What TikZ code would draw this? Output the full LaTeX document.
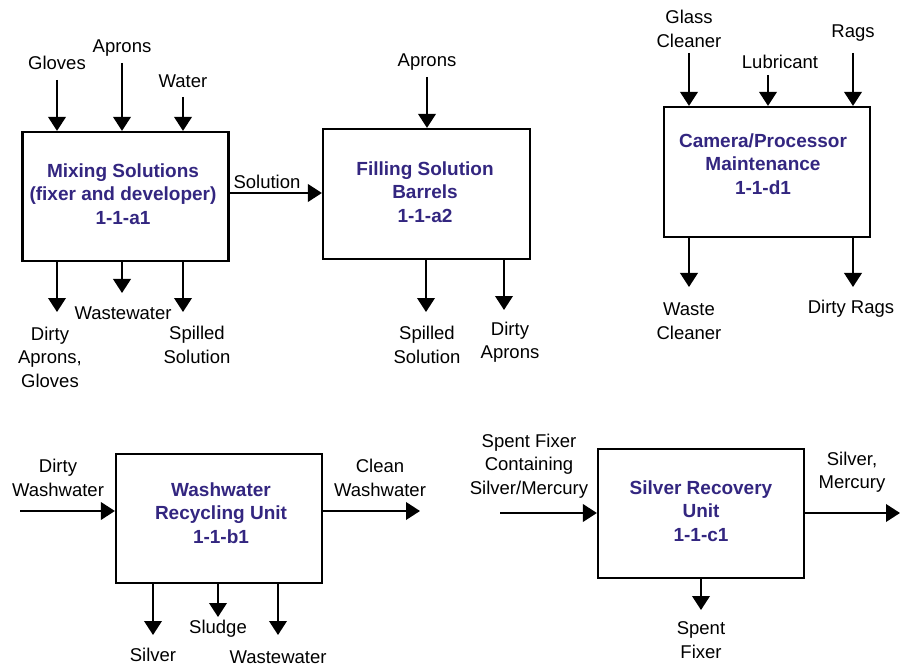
\documentclass[tikz,border=0pt]{standalone}
\usepackage{fontspec}
\setmainfont{Liberation Sans}
\usetikzlibrary{arrows.meta}
\definecolor{ttl}{RGB}{51,38,128}
\begin{document}
\begin{tikzpicture}[x=1pt,y=-1pt,
  box/.style={draw,line width=2.2pt,inner sep=0pt,minimum width=206pt,minimum height=129pt},
  ttlnode/.style={font=\bfseries\fontsize{19}{23.5}\selectfont,text=ttl,align=center,inner sep=0pt},
  lbl/.style={font=\fontsize{18.5}{23.5}\selectfont,align=center,inner sep=0pt},
  arr/.style={line width=2.2pt,-{Triangle[width=17.5pt,length=14pt]}}]
\useasboundingbox (0,0) rectangle (900,671);

% ---------- Box A1 ----------
\node[box] (a1) at (125.5,196.5) {};
\node[ttlnode] (a1t) at (123,194) {Mixing Solutions\\(fixer and developer)\\1-1-a1};
\node[lbl] (lgl) at (57,63) {Gloves};
\node[lbl] (lap) at (122,48) {Aprons};
\node[lbl] (lwa) at (183,81) {Water};
\coordinate (cgl) at (57,80);
\coordinate (cap1) at (122,63);
\coordinate (cwa) at (183,97);
\draw[arr] (cgl) -- (cgl |- a1.north);
\draw[arr] (cap1) -- (cap1 |- a1.north);
\draw[arr] (cwa) -- (cwa |- a1.north);
\coordinate (oda) at (57,312);
\coordinate (oww) at (122,293);
\coordinate (osp) at (183,312);
\draw[arr] (oda |- a1.south) -- (oda);
\draw[arr] (oww |- a1.south) -- (oww);
\draw[arr] (osp |- a1.south) -- (osp);
\node[lbl] (lww) at (123,313) {Wastewater};
\node[lbl] (lda) at (50,357) {Dirty\\Aprons,\\Gloves};
\node[lbl] (lsp) at (197,345) {Spilled\\Solution};

% ---------- Box A2 ----------
\node[box,minimum width=207pt,minimum height=130pt] (a2) at (426.5,194) {};
\node[ttlnode] (a2t) at (425,192) {Filling Solution\\Barrels\\1-1-a2};
\coordinate (cs) at (229,193);
\draw[arr] (cs) -- (cs -| a2.west);
\node[lbl] (lso) at (267,182) {Solution};
\node[lbl] (lap2) at (427,62) {Aprons};
\coordinate (cap2) at (427,77);
\draw[arr] (cap2) -- (cap2 |- a2.north);
\coordinate (osp2) at (426,312);
\coordinate (oda2) at (504,310);
\draw[arr] (osp2 |- a2.south) -- (osp2);
\draw[arr] (oda2 |- a2.south) -- (oda2);
\node[lbl] (lsp2) at (427,345) {Spilled\\Solution};
\node[lbl] (lda2) at (510,342) {Dirty\\Aprons};

% ---------- Box D1 ----------
\node[box,minimum height=130pt] (d1) at (767,172) {};
\node[ttlnode] (d1t) at (763,164) {Camera/Processor\\Maintenance\\1-1-d1};
\node[lbl] (lgc) at (689,29) {Glass\\Cleaner};
\node[lbl] (llu) at (780,62) {Lubricant};
\node[lbl] (lra) at (853,33) {Rags};
\coordinate (cgc) at (689,53);
\coordinate (clu) at (768,75);
\coordinate (cra) at (853,53);
\draw[arr] (cgc) -- (cgc |- d1.north);
\draw[arr] (clu) -- (clu |- d1.north);
\draw[arr] (cra) -- (cra |- d1.north);
\coordinate (owc) at (689,287);
\coordinate (odr) at (853,287);
\draw[arr] (owc |- d1.south) -- (owc);
\draw[arr] (odr |- d1.south) -- (odr);
\node[lbl] (lwc) at (689,321) {Waste\\Cleaner};
\node[lbl] (ldr) at (851,309) {Dirty Rags};

% ---------- Box B1 ----------
\node[box] (b1) at (219,518.5) {};
\node[ttlnode] (b1t) at (221,513) {Washwater\\Recycling Unit\\1-1-b1};
\coordinate (cbi) at (20,511);
\draw[arr] (cbi) -- (cbi -| b1.west);
\node[lbl] (ldw) at (58,478) {Dirty\\Washwater};
\coordinate (cbo) at (420,511);
\draw[arr] (cbo -| b1.east) -- (cbo);
\node[lbl] (lcw) at (380,478) {Clean\\Washwater};
\coordinate (osi) at (153,635);
\coordinate (osl) at (218,617);
\coordinate (oww2) at (278,635);
\draw[arr] (osi |- b1.south) -- (osi);
\draw[arr] (osl |- b1.south) -- (osl);
\draw[arr] (oww2 |- b1.south) -- (oww2);
\node[lbl] (lsi) at (153,655) {Silver};
\node[lbl] (lsl) at (218,629) {Sludge};
\node[lbl] (lww2) at (278,657) {Wastewater};

% ---------- Box C1 ----------
\node[box] (c1) at (701,513.5) {};
\node[ttlnode] (c1t) at (701,511) {Silver Recovery\\Unit\\1-1-c1};
\coordinate (cci) at (500,513);
\draw[arr] (cci) -- (cci -| c1.west);
\node[lbl] (lsf) at (529,466) {Spent Fixer\\Containing\\Silver/Mercury};
\coordinate (cco) at (900,513);
\draw[arr] (cco -| c1.east) -- (cco);
\node[lbl] (lsm) at (852,472) {Silver,\\Mercury};
\coordinate (osf) at (701,610);
\draw[arr] (osf |- c1.south) -- (osf);
\node[lbl] (lsf2) at (701,640) {Spent\\Fixer};
\end{tikzpicture}
\end{document}
